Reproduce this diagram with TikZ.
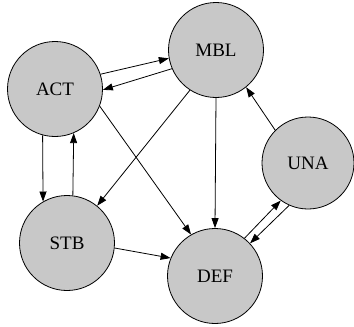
\documentclass[tikz,border=0pt]{standalone}
\usepackage{fontspec}
\setmainfont{Liberation Serif}
\usetikzlibrary{arrows.meta}
\definecolor{nodegray}{RGB}{200,200,200}
\begin{document}
\begin{tikzpicture}[x=1pt,y=-1pt,
  state/.style={circle,draw=black,fill=nodegray,line width=0.8pt,
    minimum size=95pt,inner sep=0pt,font=\fontsize{19}{22}\selectfont},
  edge/.style={line width=0.8pt,-{Triangle[length=10pt,width=7pt]}}]
\useasboundingbox (0,0) rectangle (354,327);
\node[state] (ACT) at (55,89) {ACT};
\node[state] (MBL) at (216,50) {MBL};
\node[state,minimum size=92pt] (UNA) at (308,163) {UNA};
\node[state] (STB) at (67,243) {STB};
\node[state] (DEF) at (215,276) {DEF};
% ACT <-> MBL
\draw[edge] (ACT.18) -- (MBL.190);
\draw[edge] (MBL.203) -- (ACT.-1);
% ACT <-> STB
\draw[edge] (ACT.-105) -- (STB.120);
\draw[edge] (STB.83) -- (ACT.-67);
% diagonals
\draw[edge] (ACT.-21) -- (DEF.120);
\draw[edge] (MBL.-123) -- (STB.51);
\draw[edge] (MBL.-90) -- (DEF.90);
\draw[edge] (UNA.135) -- (MBL.-51);
% DEF <-> UNA
\draw[edge] (DEF.52) -- (UNA.-126);
\draw[edge] (UNA.-114) -- (DEF.43);
% STB -> DEF
\draw[edge] (STB.-6) -- (DEF.158);
\end{tikzpicture}
\end{document}
